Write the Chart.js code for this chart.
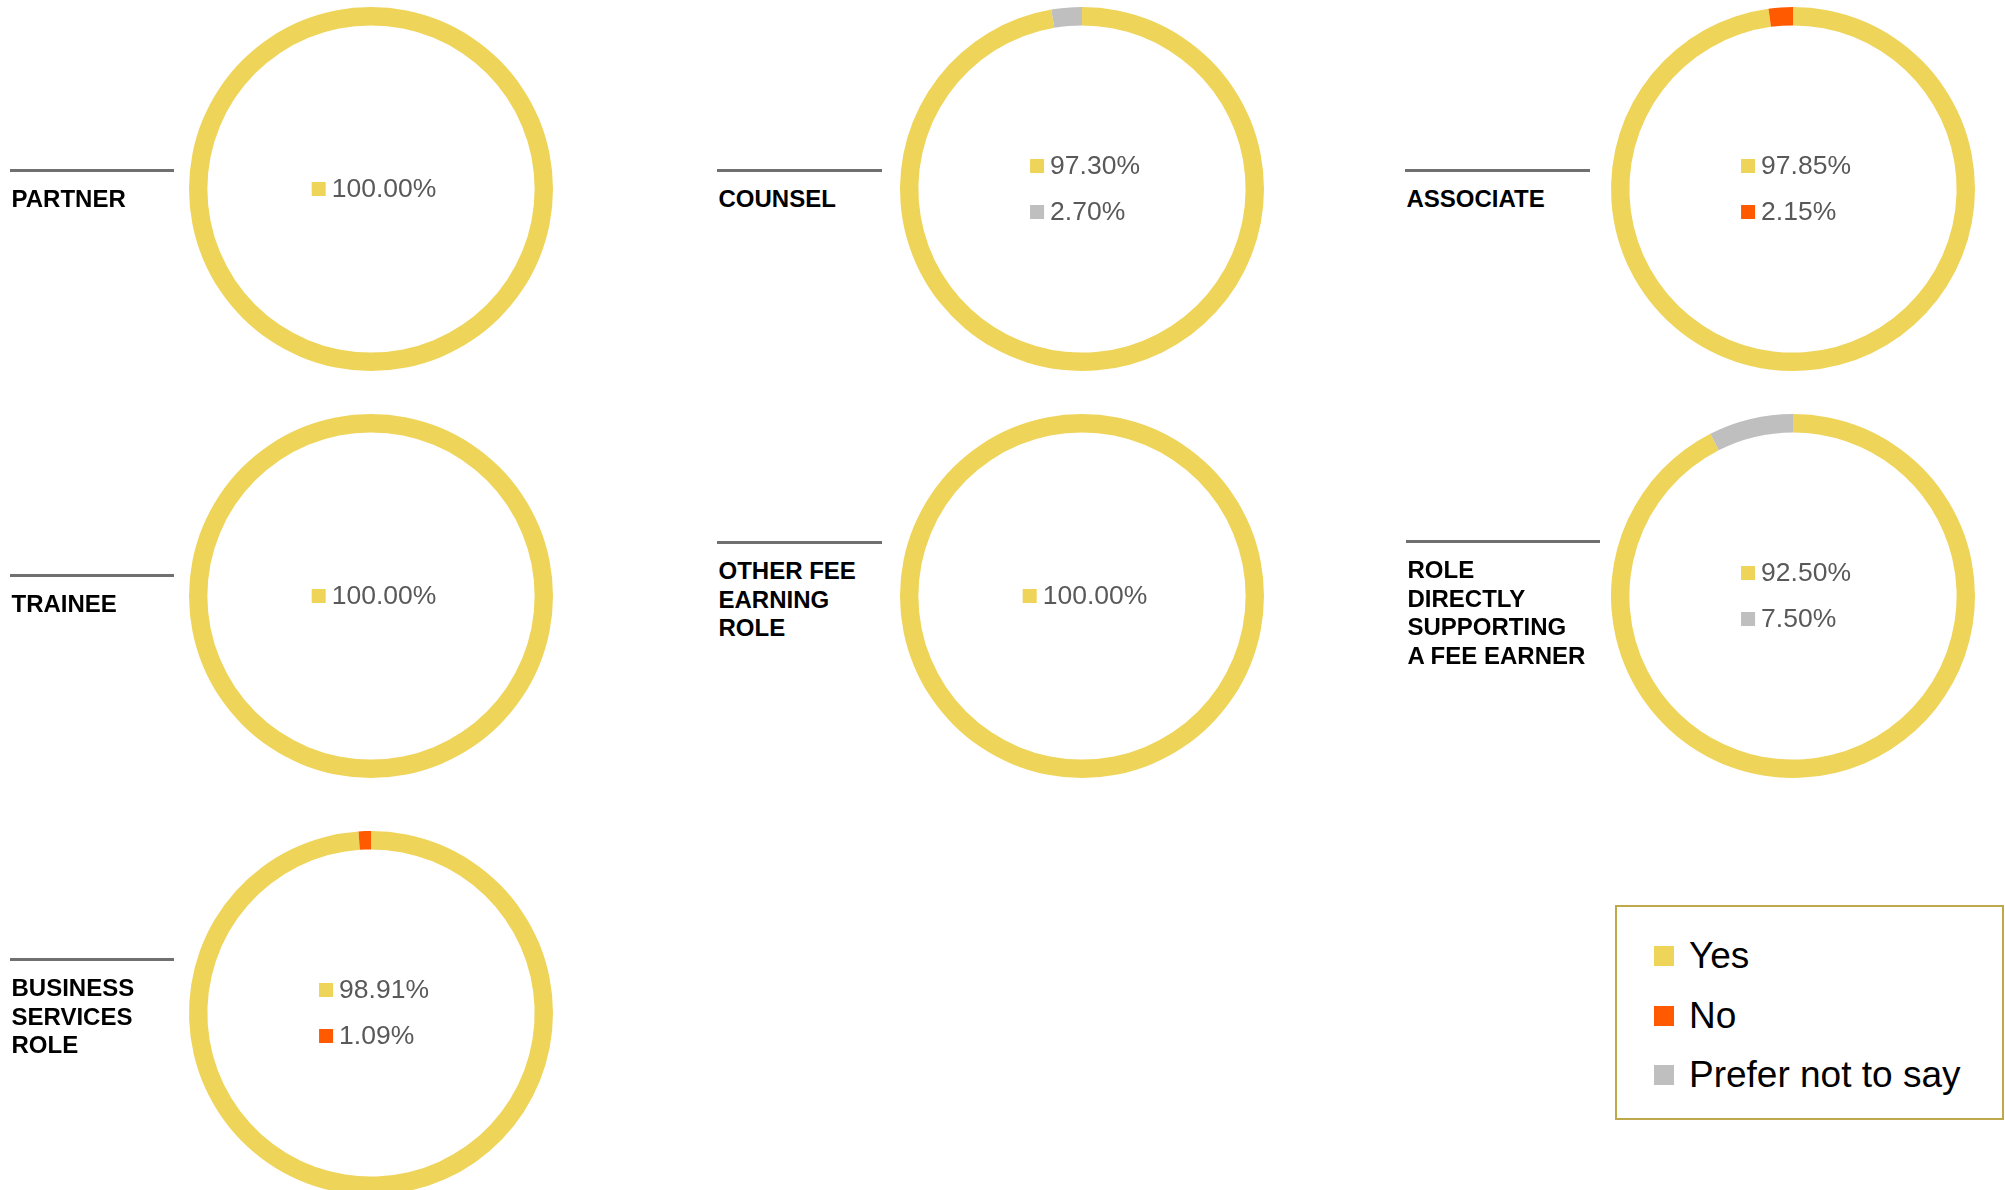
<!DOCTYPE html>
<html>
<head>
<meta charset="utf-8">
<script src="https://cdn.jsdelivr.net/npm/chart.js@4.4.0/dist/chart.umd.min.js"></script>
<style>
  html, body { margin: 0; padding: 0; background: #fff; overflow: hidden; }
  body { width: 2005px; height: 1190px; position: relative; font-family: "Liberation Sans", Arial, sans-serif; }
  canvas { position: absolute; }
  .rule { position: absolute; height: 3px; background: #707070; }
  .role { position: absolute; font-size: 24px; font-weight: bold; line-height: 28.7px; color: #000; white-space: nowrap; }
  #legend { position: absolute; left: 1615px; top: 905px; width: 385px; height: 211px; border: 2px solid #bfa84a; }
  .item { position: absolute; left: 37px; font-size: 37px; line-height: 40px; color: #000; white-space: nowrap; }
  .item span { position: absolute; left: 0; top: 10px; width: 20px; height: 20px; }
  .item b { font-weight: normal; margin-left: 35px; }
</style>
</head>
<body>
<div id="legend"></div>
<script>
// 데이터
const roles = [
  ['PARTNER'],
  ['COUNSEL'],
  ['ASSOCIATE'],
  ['TRAINEE'],
  ['OTHER FEE', 'EARNING', 'ROLE'],
  ['ROLE', 'DIRECTLY', 'SUPPORTING', 'A FEE EARNER'],
  ['BUSINESS', 'SERVICES', 'ROLE']
];
const answers = ['Yes', 'No', 'Prefer not to say'];
const yesValues = [100.00, 97.30, 97.85, 100.00, 100.00, 92.50, 98.91];
const noValues = [0, 0, 2.15, 0, 0, 0, 1.09];
const preferValues = [0, 2.70, 0, 0, 0, 7.50, 0];
const colors = ['#efd45a', '#ff5a00', '#bfbfbf'];

// 배치 (차트 중심, 제목 선 위치)
const centers = [[371, 188.5], [1082, 188.5], [1793, 188.5], [371, 595.5], [1082, 595.5], [1793, 595.5], [371, 1012.5]];
const rules = [[10, 170, 164], [717, 170, 165], [1405, 170, 185], [10, 575, 164], [717, 542, 165], [1406, 541, 194], [10, 959, 164]];

// 도넛 안쪽 퍼센트 표시 (왼쪽 정렬된 블록을 가운데에)
const centerLabels = {
  id: 'centerLabels',
  afterDraw(chart) {
    const ctx = chart.ctx;
    const arc = chart.getDatasetMeta(0).data[0];
    const ds = chart.data.datasets[0];
    const items = ds.data.map((v, i) => ({ v: v, c: ds.backgroundColor[i] })).filter(it => it.v > 0);
    ctx.save();
    ctx.font = '26.5px "Liberation Sans", Arial, sans-serif';
    ctx.textBaseline = 'alphabetic';
    const w = 20 + Math.max(...items.map(it => ctx.measureText(it.v.toFixed(2) + '%').width));
    const x0 = arc.x - w / 2 + 3;
    items.forEach((it, k) => {
      const y = arc.y - 1 + (k - (items.length - 1) / 2) * 46;
      ctx.fillStyle = it.c;
      ctx.fillRect(x0, y - 6, 14, 14);
      ctx.fillStyle = '#595959';
      ctx.fillText(it.v.toFixed(2) + '%', x0 + 20, y + 9.3);
    });
    ctx.restore();
  }
};

roles.forEach((lines, i) => {
  const canvas = document.createElement('canvas');
  canvas.width = 400;
  canvas.height = 400;
  canvas.style.left = (centers[i][0] - 200) + 'px';
  canvas.style.top = (centers[i][1] - 200) + 'px';
  document.body.appendChild(canvas);

  new Chart(canvas.getContext('2d'), {
    type: 'doughnut',
    data: {
      labels: answers,
      datasets: [{
        data: [yesValues[i], noValues[i], preferValues[i]],
        backgroundColor: colors,
        borderWidth: 0
      }]
    },
    options: {
      responsive: false,
      animation: false,
      radius: 182,
      cutout: '89.9%',
      layout: { padding: 0 },
      plugins: { legend: { display: false }, tooltip: { enabled: false } }
    },
    plugins: [centerLabels]
  });

  // 제목 선과 글자
  const r = rules[i];
  const rule = document.createElement('div');
  rule.className = 'rule';
  rule.style.left = r[0] + 'px';
  rule.style.top = (r[1] - 1.5) + 'px';
  rule.style.width = r[2] + 'px';
  document.body.appendChild(rule);

  const label = document.createElement('div');
  label.className = 'role';
  label.style.left = (r[0] + 1.5) + 'px';
  label.style.top = (r[1] + 14.8) + 'px';
  label.innerHTML = lines.join('<br>');
  document.body.appendChild(label);
});

// 범례
const legend = document.getElementById('legend');
answers.forEach((a, i) => {
  const item = document.createElement('div');
  item.className = 'item';
  item.style.top = (29 + i * 59.5) + 'px';
  item.innerHTML = '<span style="background:' + colors[i] + '"></span><b>' + a + '</b>';
  legend.appendChild(item);
});
</script>
</body>
</html>
